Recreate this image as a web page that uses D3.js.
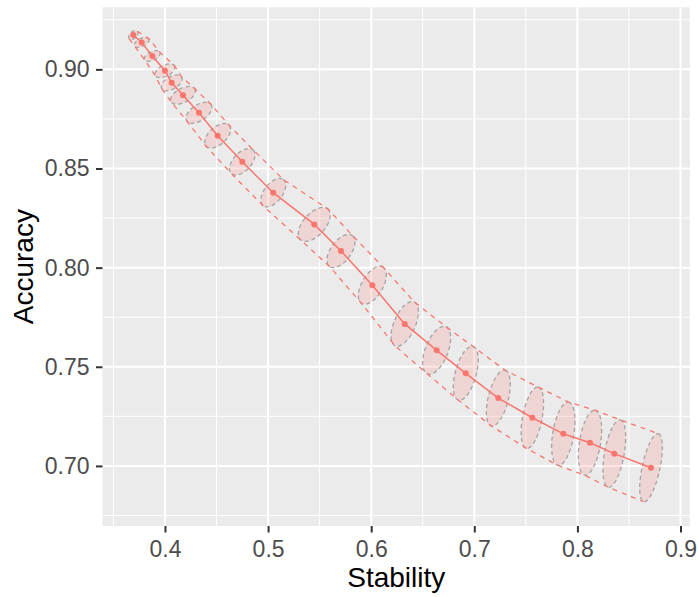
<!DOCTYPE html>
<html>
<head>
<meta charset="utf-8">
<script src="https://cdn.jsdelivr.net/npm/d3@7"></script>
<style>
  html, body { margin: 0; padding: 0; background: #ffffff; }
  svg { display: block; font-family: "Liberation Sans", Arial, Helvetica, sans-serif; }
</style>
</head>
<body>
<svg id="chart" width="699" height="597"></svg>
<script>
// ---- data ----
const stability = [0.3693, 0.3774, 0.3877, 0.4000, 0.4065, 0.4175, 0.4330, 0.4511, 0.4750, 0.5050, 0.5448,
                   0.5707, 0.6011, 0.6325, 0.6635, 0.6917, 0.7233, 0.7563, 0.7863, 0.8122, 0.8358, 0.8714];
const accuracy  = [0.9173, 0.9136, 0.9067, 0.8993, 0.8932, 0.8869, 0.8781, 0.8665, 0.8534, 0.8378, 0.8218,
                   0.8084, 0.7911, 0.7716, 0.7583, 0.7467, 0.7342, 0.7243, 0.7162, 0.7117, 0.7062, 0.6991];
// spread of each estimate (standard deviation in stability and accuracy units, and their correlation)
const sdStability = [0.0046, 0.0073, 0.0078, 0.0097, 0.0102, 0.0121, 0.0126, 0.0126, 0.0124, 0.0121, 0.0155,
                     0.0136, 0.0136, 0.0133, 0.0136, 0.0121, 0.0116, 0.0109, 0.0113, 0.0113, 0.0110, 0.0110];
const sdAccuracy  = [0.0023, 0.0025, 0.0027, 0.0035, 0.0040, 0.0045, 0.0053, 0.0062, 0.0067, 0.0072, 0.0086,
                     0.0084, 0.0096, 0.0113, 0.0121, 0.0136, 0.0141, 0.0155, 0.0160, 0.0164, 0.0170, 0.0172];
const correlation = [0.45, 0.50, 0.50, 0.50, 0.50, 0.50, 0.52, 0.52, 0.52, 0.52, 0.55,
                     0.55, 0.55, 0.55, 0.52, 0.50, 0.50, 0.47, 0.40, 0.40, 0.48, 0.60];
const xTicks = [0.4, 0.5, 0.6, 0.7, 0.8, 0.9];
const yTicks = [0.70, 0.75, 0.80, 0.85, 0.90];
const xMinor = [0.35, 0.45, 0.55, 0.65, 0.75, 0.85];
const yMinor = [0.675, 0.725, 0.775, 0.825, 0.875, 0.925];
const xTitle = "Stability";
const yTitle = "Accuracy";

// ---- layout ----
const panel = { left: 102.5, right: 690, top: 7.3, bottom: 526 };
const col = "#F8766D";

const svg = d3.select("#chart");
const x = d3.scaleLinear().domain([0.3394, 0.9092]).range([panel.left, panel.right]);
const y = d3.scaleLinear().domain([0.6697, 0.9313]).range([panel.bottom, panel.top]);

// panel background
svg.append("rect")
  .attr("x", panel.left).attr("y", panel.top)
  .attr("width", panel.right - panel.left).attr("height", panel.bottom - panel.top)
  .attr("fill", "#EBEBEB");

const grid = svg.append("g");
grid.selectAll(".vminor").data(xMinor).join("line")
  .attr("x1", d => x(d)).attr("x2", d => x(d)).attr("y1", panel.top).attr("y2", panel.bottom)
  .attr("stroke", "#fff").attr("stroke-width", 1);
grid.selectAll(".hminor").data(yMinor).join("line")
  .attr("y1", d => y(d)).attr("y2", d => y(d)).attr("x1", panel.left).attr("x2", panel.right)
  .attr("stroke", "#fff").attr("stroke-width", 1);
grid.selectAll(".vmajor").data(xTicks).join("line")
  .attr("x1", d => x(d)).attr("x2", d => x(d)).attr("y1", panel.top).attr("y2", panel.bottom)
  .attr("stroke", "#fff").attr("stroke-width", 2);
grid.selectAll(".hmajor").data(yTicks).join("line")
  .attr("y1", d => y(d)).attr("y2", d => y(d)).attr("x1", panel.left).attr("x2", panel.right)
  .attr("stroke", "#fff").attr("stroke-width", 2);

// ---- ellipses from covariance in pixel space ----
const kx = x(1) - x(0);        // px per unit (positive)
const ky = y(1) - y(0);        // px per unit (negative, y down)
const ell = stability.map((s, i) => {
  const cx = x(s), cy = y(accuracy[i]);
  const a = Math.pow(sdStability[i] * kx, 2);
  const b = Math.pow(sdAccuracy[i] * ky, 2);
  const c = correlation[i] * (sdStability[i] * kx) * (sdAccuracy[i] * ky);
  const mid = (a + b) / 2, dif = Math.sqrt(Math.pow((a - b) / 2, 2) + c * c);
  const l1 = mid + dif, l2 = Math.max(mid - dif, 0.01);
  const phi = 0.5 * Math.atan2(2 * c, a - b);
  const r1 = Math.sqrt(l1), r2 = Math.sqrt(l2);
  const e1 = [cx + r1 * Math.cos(phi), cy + r1 * Math.sin(phi)];
  const e2 = [cx - r1 * Math.cos(phi), cy - r1 * Math.sin(phi)];
  const upper = e1[1] < e2[1] ? e1 : e2;
  const lower = e1[1] < e2[1] ? e2 : e1;
  return { cx, cy, r1, r2, phi, upper, lower };
});

const plot = svg.append("g");
plot.selectAll("ellipse").data(ell).join("ellipse")
  .attr("cx", 0).attr("cy", 0)
  .attr("rx", d => d.r1).attr("ry", d => d.r2)
  .attr("transform", d => `translate(${d.cx},${d.cy}) rotate(${d.phi * 180 / Math.PI})`)
  .attr("fill", col).attr("fill-opacity", 0.2)
  .attr("stroke", "#999999").attr("stroke-opacity", 0.85)
  .attr("stroke-width", 1.3).attr("stroke-dasharray", "4,3");

const env = d3.line();
plot.append("path").datum(ell.map(d => d.upper)).attr("d", env)
  .attr("fill", "none").attr("stroke", col).attr("stroke-width", 1.3).attr("stroke-dasharray", "5,5");
plot.append("path").datum(ell.map(d => d.lower)).attr("d", env)
  .attr("fill", "none").attr("stroke", col).attr("stroke-width", 1.3).attr("stroke-dasharray", "5,5");

const pts = stability.map((s, i) => [s, accuracy[i]]);
plot.append("path").datum(pts)
  .attr("d", d3.line().x(d => x(d[0])).y(d => y(d[1])))
  .attr("fill", "none").attr("stroke", col).attr("stroke-width", 1.5);
plot.selectAll("circle").data(pts).join("circle")
  .attr("cx", d => x(d[0])).attr("cy", d => y(d[1])).attr("r", 3)
  .attr("fill", col);

// ---- axes ----
const xAxis = svg.append("g").attr("transform", `translate(0,${panel.bottom})`)
  .call(d3.axisBottom(x).tickValues(xTicks).tickFormat(d3.format(".1f")).tickSize(6.5).tickPadding(8));
const yAxis = svg.append("g").attr("transform", `translate(${panel.left},0)`)
  .call(d3.axisLeft(y).tickValues(yTicks).tickFormat(d3.format(".2f")).tickSize(6.5).tickPadding(6.5));
[xAxis, yAxis].forEach(g => {
  g.select(".domain").remove();
  g.selectAll(".tick line").attr("stroke", "#333333").attr("stroke-width", 2);
  g.selectAll(".tick text").attr("fill", "#4D4D4D").attr("font-size", 23)
    .attr("font-family", "Liberation Sans, Arial, sans-serif");
});

svg.append("text").text(xTitle)
  .attr("x", (panel.left + panel.right) / 2).attr("y", 587)
  .attr("text-anchor", "middle").attr("font-size", 28).attr("fill", "#000");
svg.append("text").text(yTitle)
  .attr("transform", `translate(33,${(panel.top + panel.bottom) / 2}) rotate(-90)`)
  .attr("text-anchor", "middle").attr("font-size", 28).attr("fill", "#000");
</script>
</body>
</html>
